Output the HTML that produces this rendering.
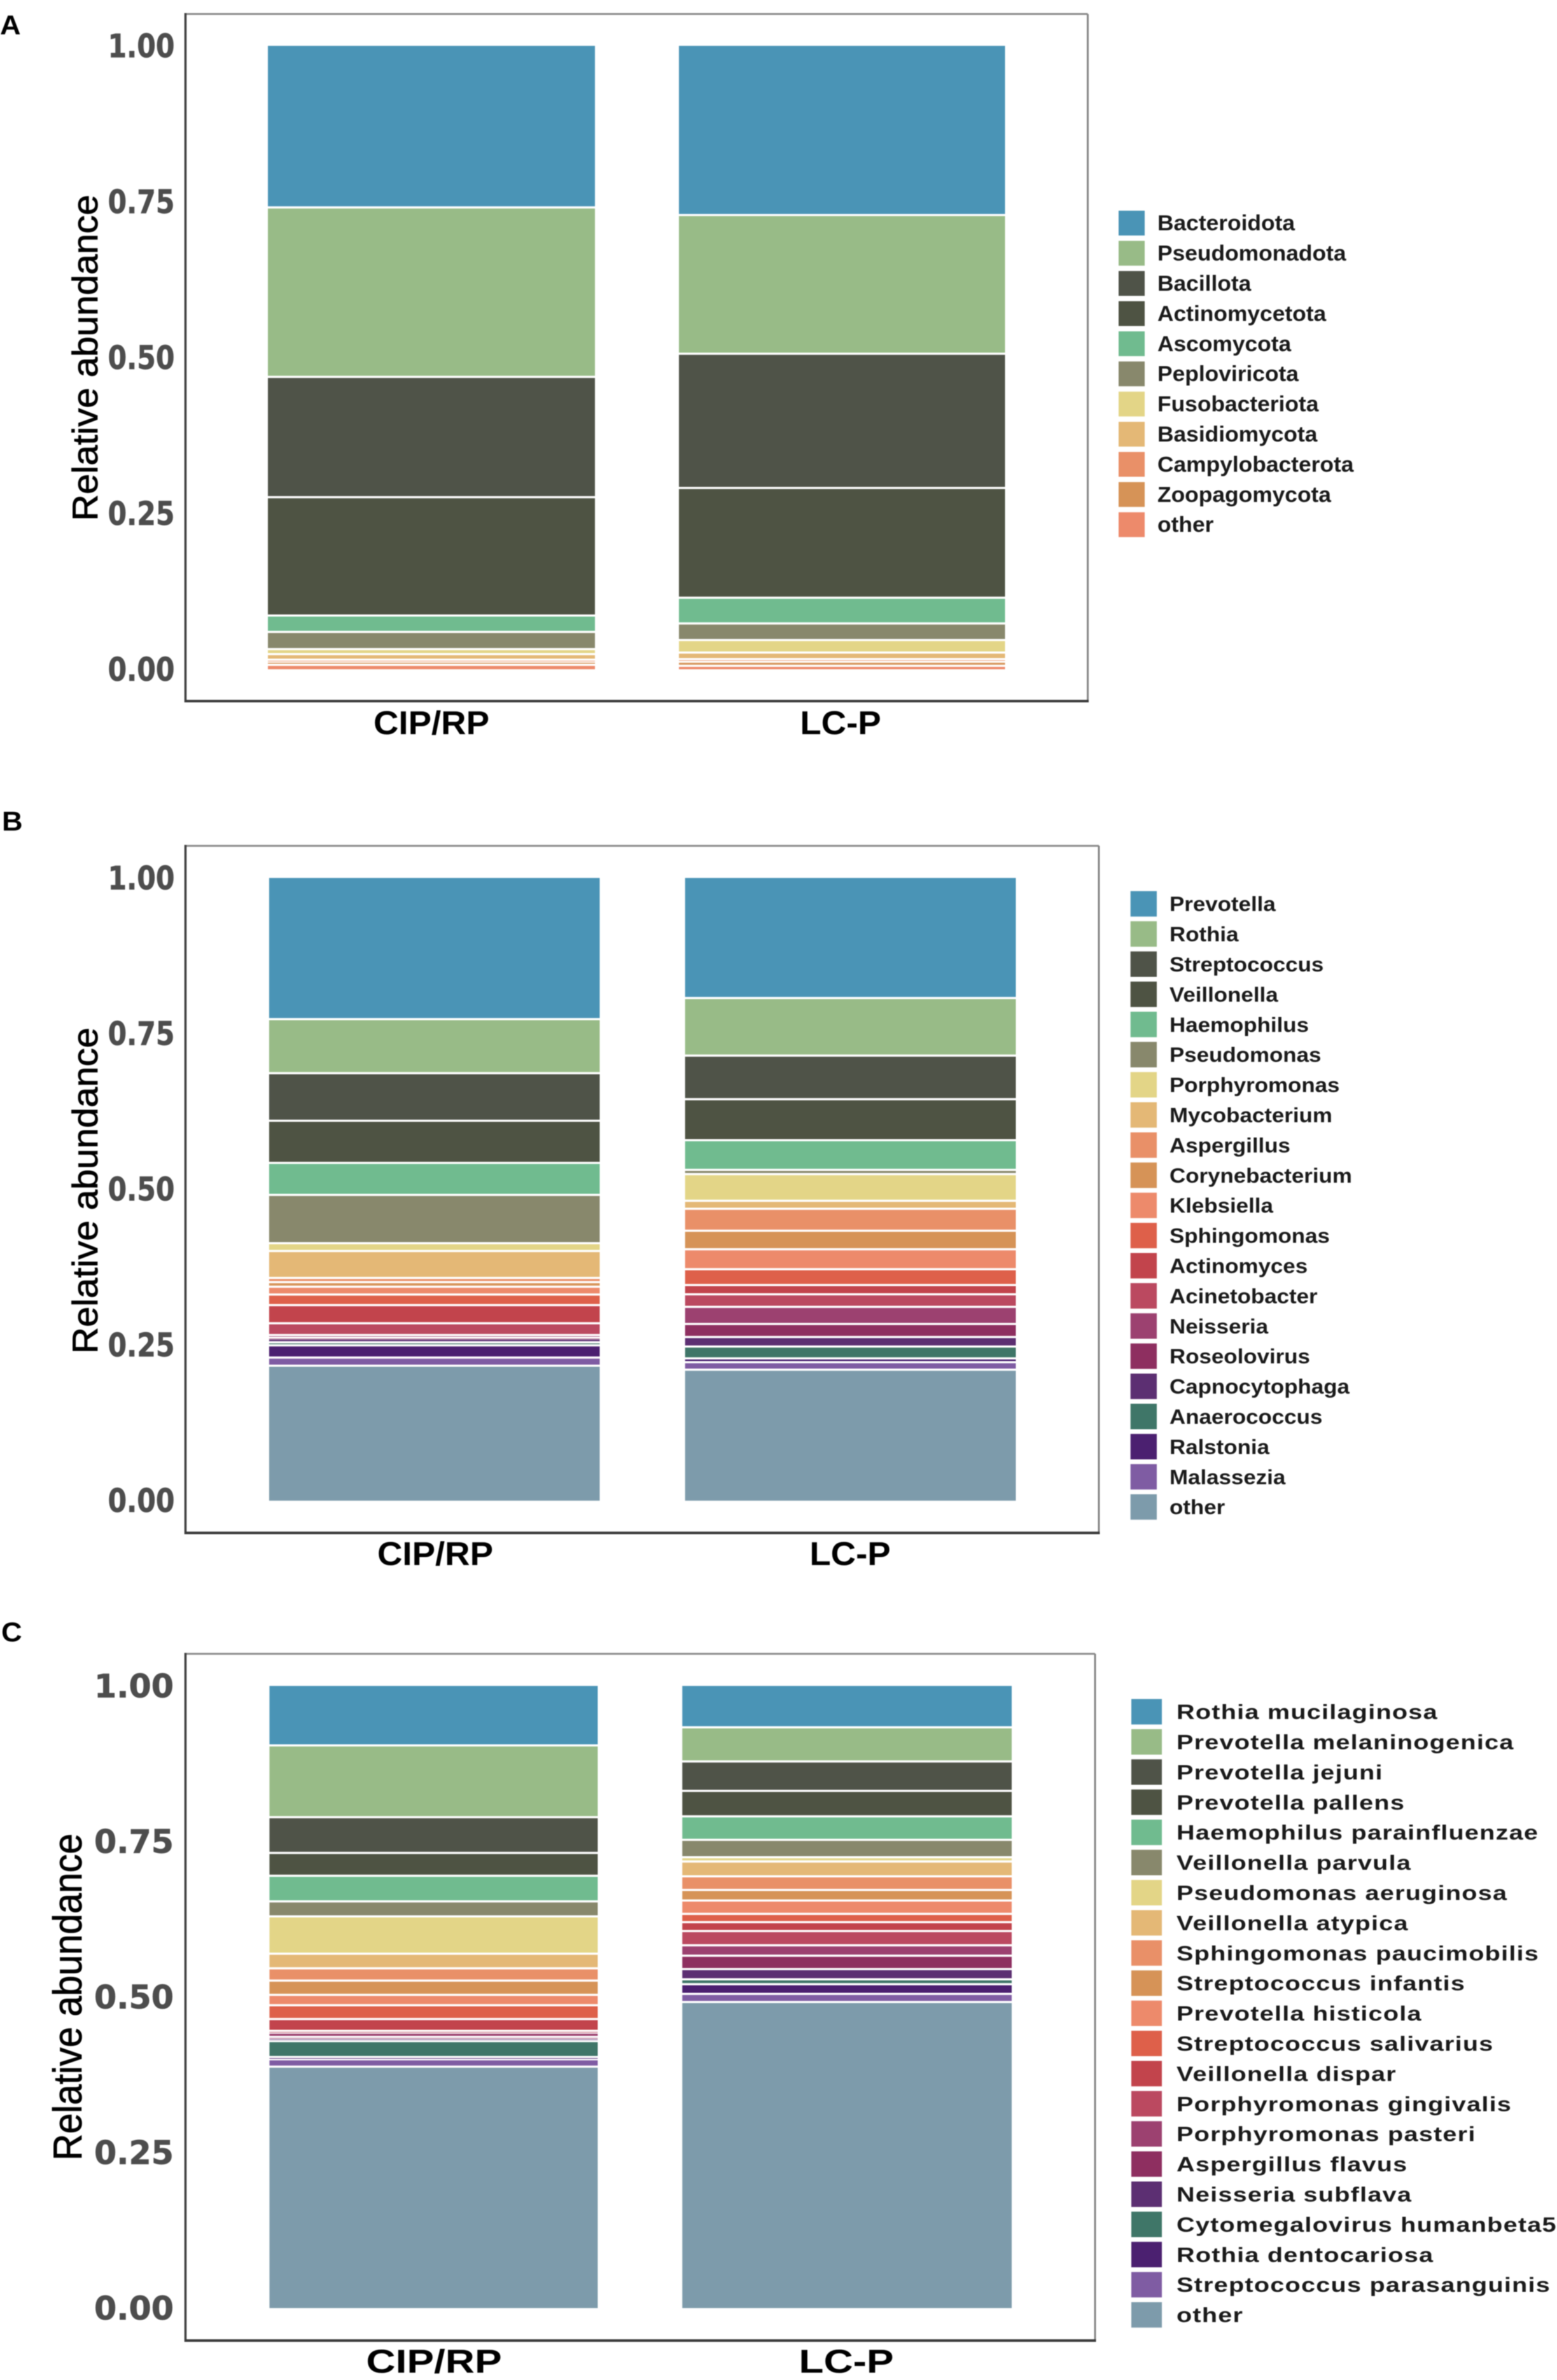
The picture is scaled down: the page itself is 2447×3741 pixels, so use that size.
<!DOCTYPE html>
<html lang="en">
<head>
<meta charset="utf-8">
<title>Relative abundance stacked bars: phylum, genus and species</title>
<style>
  html, body { margin: 0; padding: 0; background: #ffffff; }
  #figure { display: block; width: 2447px; height: 3741px; background: #ffffff; filter: blur(0.8px); }
</style>
</head>
<body>
<svg id="figure" xmlns="http://www.w3.org/2000/svg" width="2447" height="3741" viewBox="0 0 2447 3741"></svg>
<script>
// ---------- shared axis data ----------
const groupLabels = ["CIP/RP", "LC-P"];
const yTickValues = [0, 0.25, 0.5, 0.75, 1];
const yTickLabels = ["0.00", "0.25", "0.50", "0.75", "1.00"];
const yAxisTitle = "Relative abundance";

// ---------- palette (in legend order) ----------
const phylumColors = ["#4a94b6", "#98bb87", "#4f5348", "#4e5343", "#70bb8f", "#88886c", "#e3d587", "#e4b876", "#e99068", "#d69357", "#ed8a6b"];
const taxaColors = ["#4a94b6", "#98bb87", "#4f5348", "#4e5343", "#70bb8f", "#88886c", "#e3d587", "#e4b876", "#e99068", "#d69357", "#ed8a6b", "#de604a", "#c2444c", "#bb4960", "#9c4170", "#8e2f60", "#5c2f72", "#3f7668", "#4b2070", "#7f5ca3", "#7d9bab"];

// ---------- panel A: phylum ----------
const phylumNames = ["Bacteroidota", "Pseudomonadota", "Bacillota", "Actinomycetota", "Ascomycota", "Peploviricota", "Fusobacteriota", "Basidiomycota", "Campylobacterota", "Zoopagomycota", "other"];
const phylumCipRp = [0.2592, 0.2718, 0.193, 0.1898, 0.0263, 0.0276, 0.008, 0.009, 0.0031, 0.0051, 0.0071];
const phylumLcP = [0.2714, 0.2225, 0.2153, 0.176, 0.0413, 0.0266, 0.0201, 0.0105, 0.0041, 0.0066, 0.0056];

// ---------- panel B: genus ----------
const genusNames = ["Prevotella", "Rothia", "Streptococcus", "Veillonella", "Haemophilus", "Pseudomonas", "Porphyromonas", "Mycobacterium", "Aspergillus", "Corynebacterium", "Klebsiella", "Sphingomonas", "Actinomyces", "Acinetobacter", "Neisseria", "Roseolovirus", "Capnocytophaga", "Anaerococcus", "Ralstonia", "Malassezia", "other"];
const genusCipRp = [0.2267, 0.0868, 0.0764, 0.0677, 0.0514, 0.0775, 0.0126, 0.0432, 0.0068, 0.0073, 0.0126, 0.017, 0.0291, 0.019, 0.004, 0.0015, 0.0061, 0.0049, 0.0196, 0.0131, 0.2167];
const genusLcP = [0.1928, 0.0925, 0.07, 0.0658, 0.0477, 0.0068, 0.0428, 0.0129, 0.0352, 0.0298, 0.032, 0.0254, 0.0149, 0.0202, 0.0275, 0.0209, 0.0153, 0.019, 0.0061, 0.0121, 0.2103];

// ---------- panel C: species ----------
const speciesNames = ["Rothia mucilaginosa", "Prevotella melaninogenica", "Prevotella jejuni", "Prevotella pallens", "Haemophilus parainfluenzae", "Veillonella parvula", "Pseudomonas aeruginosa", "Veillonella atypica", "Sphingomonas paucimobilis", "Streptococcus infantis", "Prevotella histicola", "Streptococcus salivarius", "Veillonella dispar", "Porphyromonas gingivalis", "Porphyromonas pasteri", "Aspergillus flavus", "Neisseria subflava", "Cytomegalovirus humanbeta5", "Rothia dentocariosa", "Streptococcus parasanguinis", "other"];
const speciesCipRp = [0.0956, 0.1154, 0.0574, 0.0367, 0.0412, 0.0241, 0.06, 0.0235, 0.0197, 0.0229, 0.0167, 0.0222, 0.019, 0.0028, 0.0069, 0.0024, 0.0044, 0.0256, 0.0035, 0.0119, 0.3881];
const speciesLcP = [0.0665, 0.0549, 0.0473, 0.0409, 0.0378, 0.0279, 0.0069, 0.0238, 0.0219, 0.017, 0.0215, 0.0133, 0.0143, 0.0229, 0.0167, 0.0215, 0.0164, 0.0079, 0.0156, 0.013, 0.492];

// ---------- drawing ----------
const SVG_NS = "http://www.w3.org/2000/svg";
const figure = document.getElementById("figure");
const SEGMENT_GAP = 3.4;

function slug(text) {
  return String(text).toLowerCase().replace(/[^a-z0-9]+/g, "-").replace(/^-|-$/g, "");
}

function shape(parent, tag, props) {
  const el = document.createElementNS(SVG_NS, tag);
  for (const key in props) el.setAttribute(key, props[key]);
  parent.appendChild(el);
  return el;
}

function label(parent, str, x, y, style) {
  const rotate = style.rotate ? " rotate(" + style.rotate + ")" : "";
  const el = shape(parent, "text", {
    transform: "translate(" + x + " " + y + ")" + rotate + " scale(" + (style.sx || 1) + " 1)",
    "font-family": style.family || '"Liberation Sans", sans-serif',
    "font-size": style.size,
    "font-weight": style.weight || "bold",
    fill: style.fill || "#000000",
    "text-anchor": style.anchor || "start"
  });
  if (style.stroke) {
    el.setAttribute("stroke", style.fill || "#000000");
    el.setAttribute("stroke-width", style.stroke);
  }
  if (style.spacing) {
    el.setAttribute("letter-spacing", style.spacing);
  }
  el.textContent = str;
  return el;
}

function drawPanel(cfg) {
  const g = shape(figure, "g", {});
  
  

  const yScale = function (v) { return cfg.y0 + (cfg.y1 - cfg.y0) * v; };

  const letter = label(g, cfg.letter, cfg.letterX, cfg.letterY, { size: 43, sx: 1.05 });
  
  

  // frame
  const top = shape(g, "line", { x1: cfg.frameL, x2: cfg.frameR, y1: cfg.frameT, y2: cfg.frameT, stroke: "#8c8c8c", "stroke-width": 3 });
  
  
  const right = shape(g, "line", { x1: cfg.frameR, x2: cfg.frameR, y1: cfg.frameT, y2: cfg.frameB, stroke: "#858585", "stroke-width": 3 });
  
  
  const left = shape(g, "line", { x1: cfg.frameL, x2: cfg.frameL, y1: cfg.frameT - 1.5, y2: cfg.frameB + 2, stroke: "#444444", "stroke-width": 3.6 });
  
  
  const bottom = shape(g, "line", { x1: cfg.frameL, x2: cfg.frameR + 1.5, y1: cfg.frameB, y2: cfg.frameB, stroke: "#3a3a3a", "stroke-width": 4 });
  
  

  // y ticks
  yTickValues.forEach(function (v, i) {
    const t = label(g, yTickLabels[i], cfg.tickRight, yScale(v) + 17.8, {
      size: 50.7, sx: cfg.tickSx, anchor: "end", fill: "#4d4d4d", stroke: 0.7,
      family: '"DejaVu Sans", "Liberation Sans", sans-serif'
    });
    
    
  });

  const title = label(g, yAxisTitle, cfg.titleX, cfg.titleY, {
    size: cfg.titleSize, sx: cfg.titleSx, anchor: "middle", rotate: -90, weight: "normal", stroke: 0.8
  });
  
  

  // stacked bars
  cfg.series.forEach(function (values, b) {
    const bar = shape(g, "g", {});
    
    
    let remaining = 1;
    values.forEach(function (v, i) {
      const upper = remaining;
      const lower = remaining - v;
      remaining = lower;
      const last = i === values.length - 1;
      const yTop = yScale(upper) + (i === 0 ? 0 : SEGMENT_GAP / 2);
      const yBot = yScale(Math.max(lower, 0)) - (last ? 0 : SEGMENT_GAP / 2);
      const seg = shape(bar, "rect", {
        x: cfg.barX[b][0],
        y: yTop,
        width: cfg.barX[b][1] - cfg.barX[b][0],
        height: Math.max(0.9, yBot - yTop),
        fill: cfg.colors[i]
      });
      
      
    });
    const xl = label(g, groupLabels[b], cfg.xLabelX[b], cfg.xLabelY, { size: 52, sx: cfg.xLabelSx, anchor: "middle" });
    
    
  });

  // legend
  const legend = shape(g, "g", {});
  
  
  cfg.names.forEach(function (name, i) {
    const cy = cfg.legendY + i * 47.4;
    const swatch = shape(legend, "rect", {
      x: cfg.swatchX[0],
      y: cy - cfg.swatchH / 2,
      width: cfg.swatchX[1] - cfg.swatchX[0],
      height: cfg.swatchH,
      fill: cfg.colors[i]
    });
    
    
    const txt = label(legend, name, cfg.legendTextX, cy + 11.5, { size: cfg.legendSize, sx: cfg.legendSx, fill: "#1a1a1a", spacing: cfg.legendSpacing });
    
    
  });
}

drawPanel({
  letter: "A", letterX: 0, letterY: 54,
  frameL: 291.5, frameR: 1709.5, frameT: 22, frameB: 1102,
  y0: 1052, y1: 72,
  tickRight: 274.5, tickSx: 0.84,
  titleX: 153, titleY: 562.5, titleSize: 56, titleSx: 1.036,
  barX: [[421, 935], [1067, 1579.5]],
  xLabelX: [678, 1321], xLabelY: 1154, xLabelSx: 1.05,
  series: [phylumCipRp, phylumLcP], names: phylumNames, colors: phylumColors,
  swatchX: [1758, 1799], swatchH: 39, legendY: 350.7, legendTextX: 1819, legendSize: 34, legendSx: 1.04, legendSpacing: 0
});

drawPanel({
  letter: "B", letterX: 3, letterY: 1305.5,
  frameL: 291.5, frameR: 1727, frameT: 1329.5, frameB: 2409.5,
  y0: 2358.8, y1: 1380,
  tickRight: 274.5, tickSx: 0.84,
  titleX: 153, titleY: 1871.5, titleSize: 56, titleSx: 1.036,
  barX: [[423, 942.5], [1076.7, 1596.5]],
  xLabelX: [684, 1336], xLabelY: 2460, xLabelSx: 1.05,
  series: [genusCipRp, genusLcP], names: genusNames, colors: taxaColors,
  swatchX: [1776.7, 1818], swatchH: 40, legendY: 1420.7, legendTextX: 1838, legendSize: 32, legendSx: 1.09, legendSpacing: 0
});

drawPanel({
  letter: "C", letterX: 2, letterY: 2580,
  frameL: 291.5, frameR: 1721, frameT: 2599.5, frameB: 3679,
  y0: 3628, y1: 2650,
  tickRight: 273, tickSx: 1.0,
  titleX: 128, titleY: 3139, titleSize: 63, titleSx: 0.923,
  barX: [[423.5, 939.4], [1072.3, 1590]],
  xLabelX: [682, 1330], xLabelY: 3729.5, xLabelSx: 1.23,
  series: [speciesCipRp, speciesLcP], names: speciesNames, colors: taxaColors,
  swatchX: [1778, 1826], swatchH: 40, legendY: 2690.6, legendTextX: 1849, legendSize: 32, legendSx: 1.238, legendSpacing: 1
});
</script>
</body>
</html>
